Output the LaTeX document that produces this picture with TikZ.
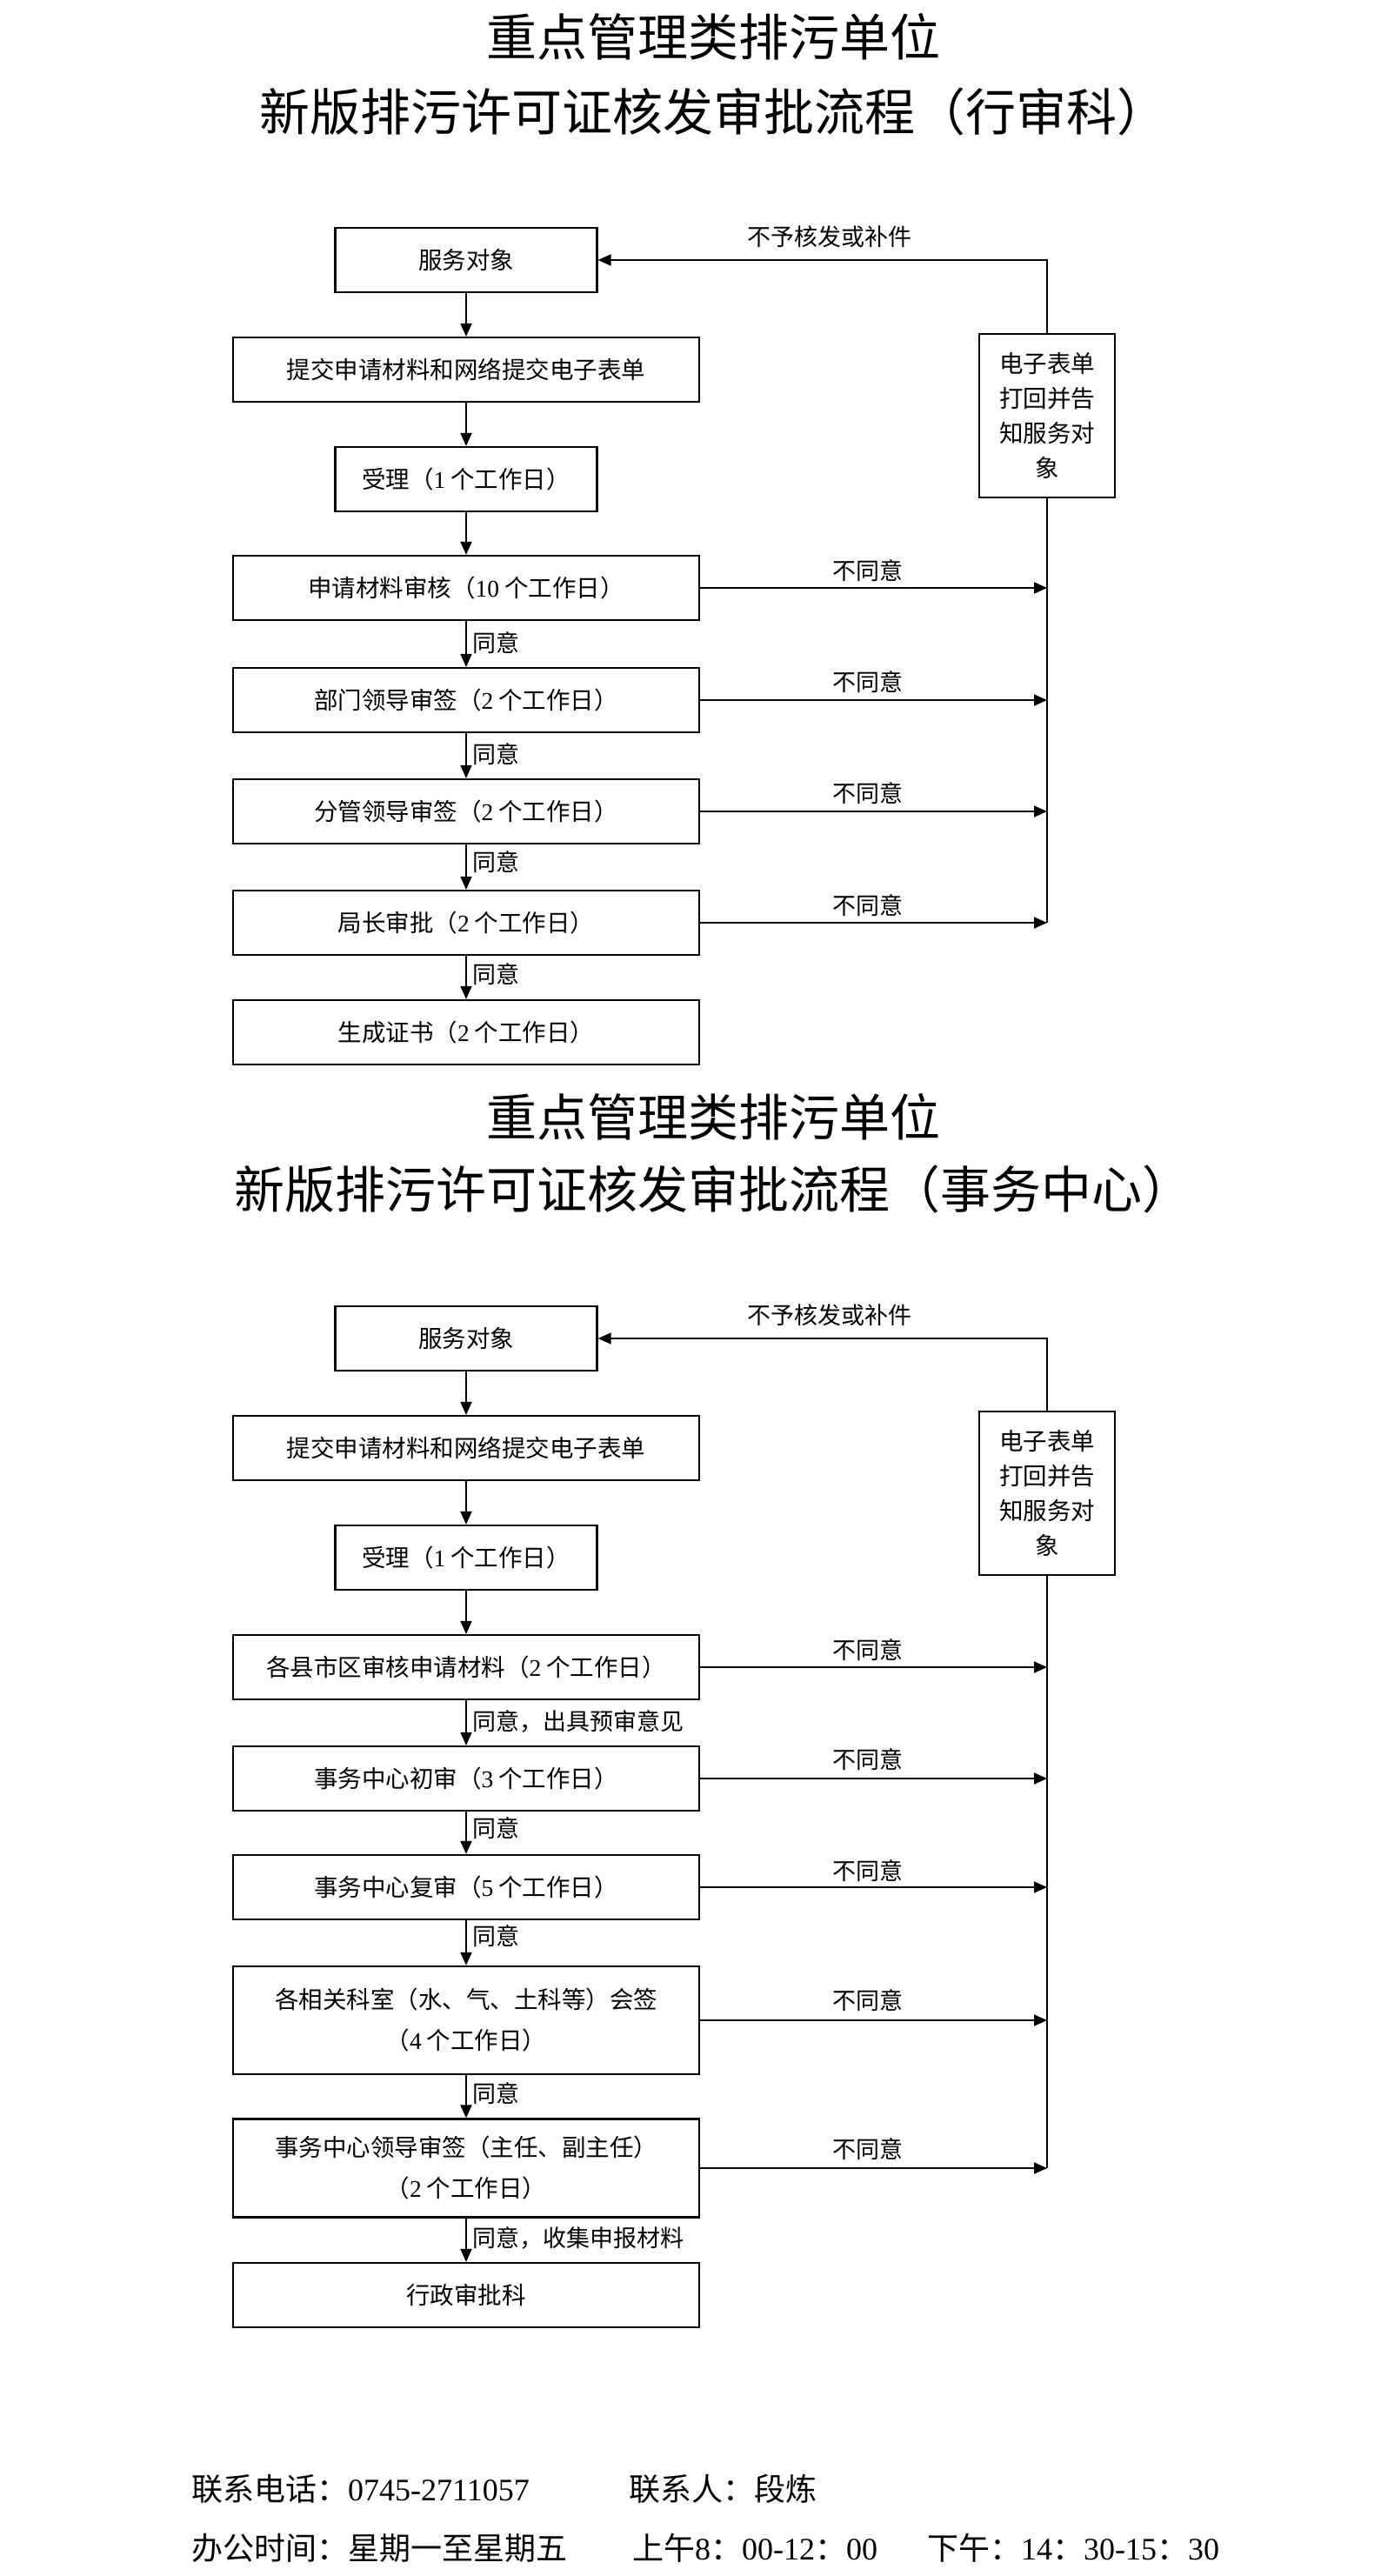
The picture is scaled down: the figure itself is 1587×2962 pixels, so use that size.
\documentclass[tikz,border=0pt]{standalone}
\usepackage{fontspec}
\setmainfont{Noto Sans CJK SC}
\newfontfamily\lat{Liberation Serif}
\usetikzlibrary{arrows.meta}
\begin{document}
\begin{tikzpicture}[x=1pt,y=-1pt,
 box/.style={draw, line width=2.2pt, minimum height=74pt, inner sep=0pt, align=center, font=\fontsize{27.5}{47}\selectfont},
 smallbox/.style={box, minimum width=301pt},
 widebox/.style={box, minimum width=536pt},
 sidebox/.style={draw, line width=2.2pt, minimum width=156pt, minimum height=188pt, inner sep=0pt, align=center, font=\fontsize{27.5}{40}\selectfont},
 conn/.style={line width=1.8pt, -{Triangle[length=15pt,width=13pt]}},
 plainline/.style={line width=1.8pt},
 lbl/.style={font=\fontsize{27}{32}\selectfont, inner sep=0pt},
 yes/.style={lbl, anchor=west},
 ttl/.style={font=\fontsize{58}{70}\selectfont, inner sep=0pt},
 foot/.style={font=\fontsize{36}{40}\selectfont, inner sep=0pt, anchor=west},
]
\fill[white] (0,0) rectangle (1587,2962);
\useasboundingbox (0,0) rectangle (1587,2962);

% ---------- chart 1 ----------
\node[ttl] (h1a) at (820,42) {重点管理类排污单位};
\node[ttl] (h1b) at (820,128) {新版排污许可证核发审批流程（行审科）};

\node[smallbox] (s1) at (536,299) {服务对象};
\node[widebox]  (s2) at (536,425) {提交申请材料和网络提交电子表单};
\node[smallbox] (s3) at (536,551) {受理（{\lat 1} 个工作日）};
\node[widebox]  (s4) at (536,676) {申请材料审核（{\lat 10} 个工作日）};
\node[widebox]  (s5) at (536,805) {部门领导审签（{\lat 2} 个工作日）};
\node[widebox]  (s6) at (536,933) {分管领导审签（{\lat 2} 个工作日）};
\node[widebox]  (s7) at (536,1061) {局长审批（{\lat 2} 个工作日）};
\node[widebox]  (s8) at (536,1187) {生成证书（{\lat 2} 个工作日）};
\node[sidebox]  (r1) at (1204,478) {电子表单\\打回并告\\知服务对\\象};

\draw[conn] (s1) -- (s2);
\draw[conn] (s2) -- (s3);
\draw[conn] (s3) -- (s4);
\draw[conn] (s4) -- (s5);
\draw[conn] (s5) -- (s6);
\draw[conn] (s6) -- (s7);
\draw[conn] (s7) -- (s8);
\draw[plainline] (r1.south) -- (r1.south |- s7.east);
\draw[conn] (r1.north) |- (s1.east);
\draw[conn] (s4.east) -- (s4.east -| r1.south);
\draw[conn] (s5.east) -- (s5.east -| r1.south);
\draw[conn] (s6.east) -- (s6.east -| r1.south);
\draw[conn] (s7.east) -- (s7.east -| r1.south);

\node[lbl] (f1) at (954,272) {不予核发或补件};
\node[lbl] (n14) at (998,656) {不同意};
\node[lbl] (n15) at (998,784) {不同意};
\node[lbl] (n16) at (998,912) {不同意};
\node[lbl] (n17) at (998,1041) {不同意};
\node[yes] (y15) at (543,739) {同意};
\node[yes] (y16) at (543,867) {同意};
\node[yes] (y17) at (543,991) {同意};
\node[yes] (y18) at (543,1120) {同意};

% ---------- chart 2 ----------
\node[ttl] (h2a) at (820,1284) {重点管理类排污单位};
\node[ttl] (h2b) at (820,1367) {新版排污许可证核发审批流程（事务中心）};

\node[smallbox] (t1) at (536,1539) {服务对象};
\node[widebox]  (t2) at (536,1665) {提交申请材料和网络提交电子表单};
\node[smallbox] (t3) at (536,1791) {受理（{\lat 1} 个工作日）};
\node[widebox]  (t4) at (536,1917) {各县市区审核申请材料（{\lat 2} 个工作日）};
\node[widebox]  (t5) at (536,2045) {事务中心初审（{\lat 3} 个工作日）};
\node[widebox]  (t6) at (536,2170) {事务中心复审（{\lat 5} 个工作日）};
\node[widebox, minimum height=124pt] (t7) at (536,2323) {各相关科室（水、气、土科等）会签\\（{\lat 4} 个工作日）};
\node[widebox, minimum height=113pt] (t8) at (536,2493) {事务中心领导审签（主任、副主任）\\（{\lat 2} 个工作日）};
\node[widebox]  (t9) at (536,2639) {行政审批科};
\node[sidebox]  (r2) at (1204,1717) {电子表单\\打回并告\\知服务对\\象};

\draw[conn] (t1) -- (t2);
\draw[conn] (t2) -- (t3);
\draw[conn] (t3) -- (t4);
\draw[conn] (t4) -- (t5);
\draw[conn] (t5) -- (t6);
\draw[conn] (t6) -- (t7);
\draw[conn] (t7) -- (t8);
\draw[conn] (t8) -- (t9);
\draw[plainline] (r2.south) -- (r2.south |- t8.east);
\draw[conn] (r2.north) |- (t1.east);
\draw[conn] (t4.east) -- (t4.east -| r2.south);
\draw[conn] (t5.east) -- (t5.east -| r2.south);
\draw[conn] (t6.east) -- (t6.east -| r2.south);
\draw[conn] (t7.east) -- (t7.east -| r2.south);
\draw[conn] (t8.east) -- (t8.east -| r2.south);

\node[lbl] (f2) at (954,1512) {不予核发或补件};
\node[lbl] (n24) at (998,1897) {不同意};
\node[lbl] (n25) at (998,2023) {不同意};
\node[lbl] (n26) at (998,2151) {不同意};
\node[lbl] (n27) at (998,2300) {不同意};
\node[lbl] (n28) at (998,2471) {不同意};
\node[yes] (y25) at (543,1979) {同意，出具预审意见};
\node[yes] (y26) at (543,2102) {同意};
\node[yes] (y27) at (543,2226) {同意};
\node[yes] (y28) at (543,2407) {同意};
\node[yes] (y29) at (543,2573) {同意，收集申报材料};

% ---------- footer ----------
\node[foot] (c1) at (220,2862) {联系电话：{\lat 0745-2711057}};
\node[foot] (c2) at (723,2862) {联系人：段炼};
\node[foot] (c3) at (220,2930) {办公时间：星期一至星期五};
\node[foot] (c4) at (727,2930) {上午{\lat 8}：{\lat 00-12}：{\lat 00}};
\node[foot] (c5) at (1066,2930) {下午：{\lat 14}：{\lat 30-15}：{\lat 30}};
\end{tikzpicture}
\end{document}
